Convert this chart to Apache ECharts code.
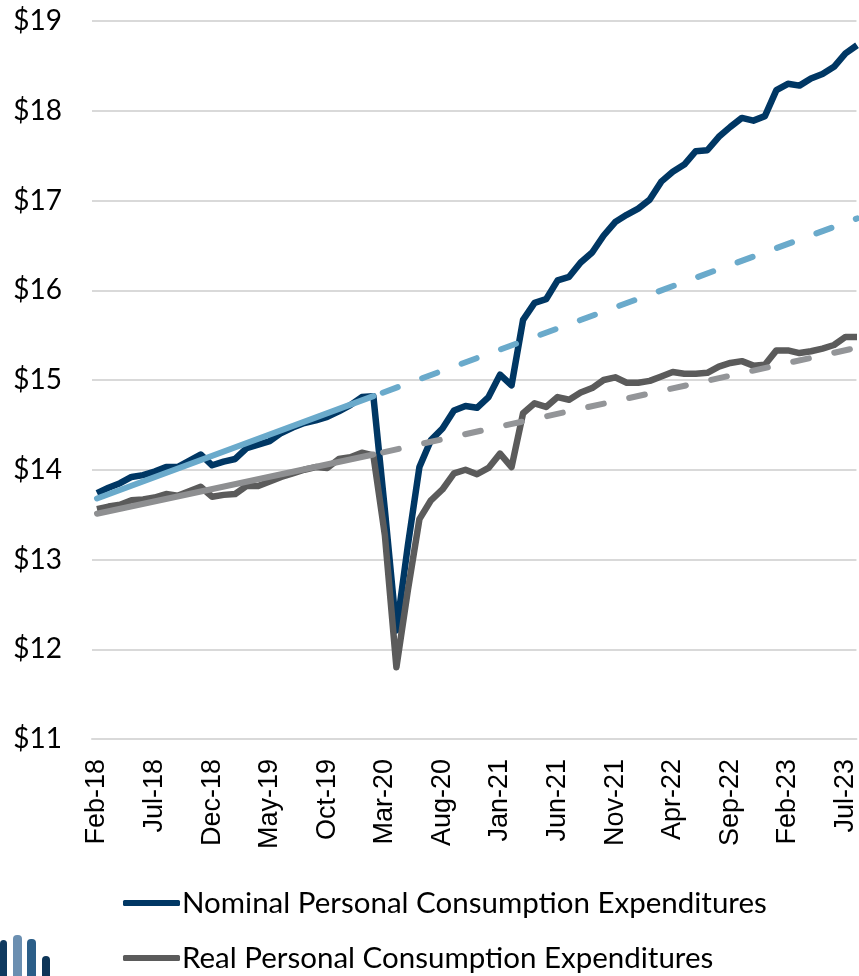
<!DOCTYPE html>
<html>
<head>
<meta charset="utf-8">
<script src="https://cdn.jsdelivr.net/npm/echarts@6/dist/echarts.min.js"></script>
<style>
    html, body { margin: 0; padding: 0; background: #fff; }
    #chart { width: 859px; height: 976px; }
</style>
</head>
<body>
<div id="chart"></div>
<script>
// months Feb-18 .. Aug-23 (last one is cut off at the right edge)
const months = [
    'Feb-18','Mar-18','Apr-18','May-18','Jun-18','Jul-18','Aug-18','Sep-18','Oct-18','Nov-18','Dec-18',
    'Jan-19','Feb-19','Mar-19','Apr-19','May-19','Jun-19','Jul-19','Aug-19','Sep-19','Oct-19','Nov-19','Dec-19',
    'Jan-20','Feb-20','Mar-20','Apr-20','May-20','Jun-20','Jul-20','Aug-20','Sep-20','Oct-20','Nov-20','Dec-20',
    'Jan-21','Feb-21','Mar-21','Apr-21','May-21','Jun-21','Jul-21','Aug-21','Sep-21','Oct-21','Nov-21','Dec-21',
    'Jan-22','Feb-22','Mar-22','Apr-22','May-22','Jun-22','Jul-22','Aug-22','Sep-22','Oct-22','Nov-22','Dec-22',
    'Jan-23','Feb-23','Mar-23','Apr-23','May-23','Jun-23','Jul-23','Aug-23'
];
const labelIdx = [0, 5, 10, 15, 20, 25, 30, 35, 40, 45, 50, 55, 60, 65];
const yTicks = [11, 12, 13, 14, 15, 16, 17, 18, 19];

// trillions of dollars
const nominal = [
    13.74, 13.80, 13.85, 13.92, 13.94, 13.98, 14.03, 14.03, 14.10, 14.17, 14.05,
    14.09, 14.12, 14.24, 14.28, 14.32, 14.41, 14.47, 14.52, 14.55, 14.59, 14.65, 14.72,
    14.81, 14.82, 13.55, 12.21, 13.16, 14.03, 14.33, 14.46, 14.66, 14.71, 14.69, 14.81,
    15.06, 14.94, 15.67, 15.86, 15.90, 16.11, 16.15, 16.31, 16.42, 16.61, 16.76, 16.84,
    16.91, 17.01, 17.21, 17.32, 17.40, 17.55, 17.56, 17.71, 17.82, 17.92, 17.89, 17.94,
    18.23, 18.30, 18.28, 18.36, 18.41, 18.49, 18.64, 18.73
];
const real = [
    13.56, 13.59, 13.61, 13.66, 13.67, 13.69, 13.73, 13.71, 13.76, 13.81, 13.70,
    13.72, 13.73, 13.82, 13.82, 13.87, 13.92, 13.96, 14.00, 14.03, 14.02, 14.12, 14.14,
    14.19, 14.16, 13.27, 11.80, 12.66, 13.45, 13.66, 13.78, 13.96, 14.00, 13.95, 14.02,
    14.18, 14.03, 14.63, 14.74, 14.70, 14.81, 14.78, 14.86, 14.91, 15.00, 15.03, 14.97,
    14.97, 14.99, 15.04, 15.09, 15.07, 15.07, 15.08, 15.15, 15.19, 15.21, 15.16, 15.17,
    15.33, 15.33, 15.30, 15.32, 15.35, 15.39, 15.48, 15.48
];
// pre-pandemic trend: [month index, value] end points
const nominalTrendFit = [[0, 13.68], [24, 14.82]];
const nominalTrendExt = [[24, 14.82], [66, 16.80]];
const realTrendFit = [[0, 13.51], [24, 14.17]];
const realTrendExt = [[24, 14.17], [66, 15.36]];

const pairs = arr => arr.map((v, i) => [i, v]);

const NAVY = '#003764';
const DGRAY = '#5b5b5b';
const LBLUE = '#6aaacb';
const LGRAY = '#939598';

const chart = echarts.init(document.getElementById('chart'));
chart.setOption({
    animation: false,
    backgroundColor: '#fff',
    grid: { left: 92, right: 0, top: 21, bottom: 237, containLabel: false },
    xAxis: {
        type: 'value',
        min: -0.433,
        max: 65.95,
        axisLine: { show: true, lineStyle: { color: '#d9d9d9', width: 2 } },
        axisTick: { show: false },
        splitLine: { show: false },
        axisLabel: {
            customValues: labelIdx,
            rotate: 90,
            margin: 20,
            color: '#000',
            fontFamily: 'Liberation Sans',
            fontSize: 27,
            formatter: v => months[Math.round(v)]
        }
    },
    yAxis: {
        type: 'value',
        min: yTicks[0],
        max: yTicks[yTicks.length - 1],
        interval: 1,
        axisLine: { show: false },
        axisTick: { show: false },
        splitLine: { lineStyle: { color: '#d9d9d9', width: 2 } },
        axisLabel: {
            margin: 30,
            color: '#000',
            fontFamily: 'Lato',
            fontSize: 28,
            formatter: v => '$' + v
        }
    },
    legend: {
        data: ['Nominal Personal Consumption Expenditures', 'Real Personal Consumption Expenditures'],
        orient: 'vertical',
        left: 123,
        top: 888,
        height: 88,
        padding: 0,
        itemWidth: 57,
        itemHeight: 6,
        itemGap: 25,
        icon: 'roundRect',
        textStyle: { color: '#000', fontFamily: 'Lato', fontSize: 29.5, lineHeight: 30, padding: [0, 0, 0, -3] }
    },
    series: [
        {
            name: 'Nominal Personal Consumption Expenditures',
            type: 'line', symbol: 'none', color: NAVY,
            lineStyle: { width: 6.5, color: NAVY, join: 'round' },
            data: pairs(nominal)
        },
        {
            name: 'Real Personal Consumption Expenditures',
            type: 'line', symbol: 'none', color: DGRAY,
            lineStyle: { width: 6.5, color: DGRAY, join: 'round' },
            data: pairs(real)
        },
        {
            name: 'Nominal trend', type: 'line', symbol: 'none',
            lineStyle: { width: 6, color: LBLUE, cap: 'round' },
            data: nominalTrendFit
        },
        {
            name: 'Nominal trend ext', type: 'line', symbol: 'none',
            lineStyle: { width: 6, color: LBLUE, cap: 'round', type: [16, 26], dashOffset: -10 },
            data: nominalTrendExt
        },
        {
            name: 'Real trend', type: 'line', symbol: 'none',
            lineStyle: { width: 6, color: '#8e8f91', cap: 'round' },
            data: realTrendFit
        },
        {
            name: 'Real trend ext', type: 'line', symbol: 'none',
            lineStyle: { width: 6, color: LGRAY, cap: 'round', type: [16, 26], dashOffset: -10 },
            data: realTrendExt
        }
    ],
    graphic: [
        // logo bars, bottom left
        { type: 'rect', shape: { x: 0, y: 940, width: 7, height: 40, r: [4, 4, 0, 0] }, style: { fill: '#0f3a60' } },
        { type: 'rect', shape: { x: 13, y: 935, width: 9, height: 45, r: [4, 4, 0, 0] }, style: { fill: '#6b8fb1' } },
        { type: 'rect', shape: { x: 27, y: 939, width: 9, height: 41, r: [4, 4, 0, 0] }, style: { fill: '#2b5e88' } },
        { type: 'rect', shape: { x: 42, y: 956, width: 8, height: 24, r: [4, 4, 0, 0] }, style: { fill: '#0d3558' } }
    ]
});
</script>
</body>
</html>
